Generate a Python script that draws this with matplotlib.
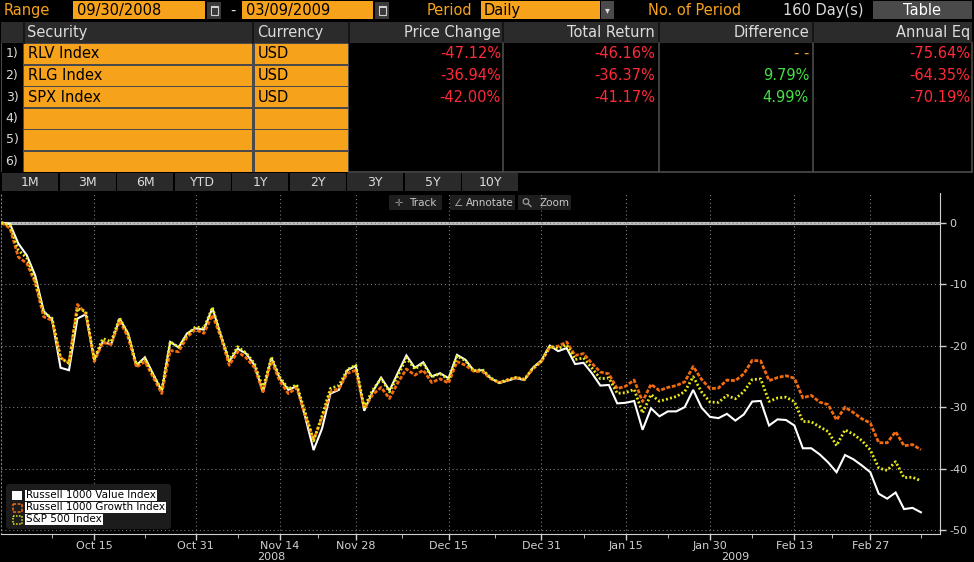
import numpy as np
import pandas as pd
import matplotlib
matplotlib.use("Agg")
import matplotlib.pyplot as plt
from matplotlib.patches import Rectangle, FancyBboxPatch, Circle

# trading days shown on the chart (NYSE holidays removed)
holidays = ["2008-11-27", "2008-12-25", "2009-01-01", "2009-01-19", "2009-02-16"]
dates = pd.bdate_range("2008-09-30", "2009-03-09")
dates = dates[~dates.isin(pd.to_datetime(holidays))]

# cumulative % change
spx = [0, -0.45, -4.47, -5.76, -9.39, -14.59, -15.55, -21.99, -22.90, -13.98,
       -14.43, -22.16, -18.86, -19.36, -15.51, -18.12, -23.11, -22.14, -24.83, -27.22,
       -19.36, -20.26, -18.20, -16.94, -17.15, -13.77, -18.31, -22.42, -20.18, -21.19,
       -22.93, -26.93, -21.87, -25.13, -27.06, -26.34, -30.85, -35.49, -31.41, -26.97,
       -26.49, -23.89, -23.16, -30.02, -27.23, -25.35, -27.53, -24.89, -22.01, -23.81,
       -22.90, -25.10, -24.57, -25.53, -21.71, -22.46, -24.10, -23.88, -25.27, -26.00,
       -25.57, -25.17, -25.46, -23.64, -22.56, -20.11, -20.48, -19.86, -22.27, -22.00,
       -23.66, -25.39, -25.26, -27.76, -27.66, -27.11, -30.96, -27.96, -29.05, -28.67,
       -28.28, -27.49, -25.06, -27.54, -29.19, -29.23, -28.11, -28.65, -27.48, -25.53,
       -25.42, -29.08, -28.52, -28.39, -29.11, -32.34, -32.40, -33.22, -33.98, -36.27,
       -33.71, -34.42, -35.45, -36.98, -39.91, -40.30, -38.88, -41.48, -41.41, -42.00]
rlv = [0, -0.2, -3.4, -5.3, -8.6, -14.4, -15.8, -23.6, -24.0, -15.6,
       -14.9, -22.3, -19.4, -19.8, -15.6, -18.0, -23.2, -21.9, -24.7, -27.4,
       -19.4, -20.3, -18.0, -17.2, -17.4, -13.9, -18.3, -22.6, -20.5, -21.3,
       -23.2, -27.6, -22.0, -25.4, -27.2, -26.6, -31.6, -37.0, -33.5, -27.8,
       -27.2, -24.0, -23.3, -30.6, -27.5, -25.2, -27.3, -24.4, -21.6, -23.6,
       -22.7, -25.0, -24.5, -25.3, -21.5, -22.3, -24.1, -24.0, -25.3, -26.1,
       -25.7, -25.3, -25.6, -23.6, -22.4, -20.0, -20.9, -20.4, -23.0, -22.8,
       -24.5, -26.5, -26.4, -29.4, -29.3, -29.0, -33.7, -30.2, -31.5, -30.7,
       -30.7, -30.0, -27.2, -30.1, -31.6, -31.8, -31.1, -32.2, -31.2, -29.1,
       -29.0, -33.0, -32.0, -32.1, -33.0, -36.7, -36.7, -37.7, -39.0, -40.6,
       -37.8, -38.5, -39.5, -40.6, -44.1, -44.9, -43.9, -46.6, -46.4, -47.12]
rlg = [0, -0.9, -5.6, -6.6, -9.8, -15.3, -15.9, -22.0, -22.8, -13.3,
       -14.8, -22.6, -19.5, -19.8, -16.0, -18.6, -23.5, -22.6, -25.2, -27.8,
       -20.8, -21.0, -18.6, -17.4, -18.0, -15.0, -18.6, -23.2, -21.0, -22.0,
       -23.6, -27.5, -22.5, -25.8, -27.8, -26.9, -31.3, -35.3, -31.8, -27.5,
       -27.0, -24.5, -24.0, -30.2, -28.0, -26.8, -28.6, -26.0, -23.8, -24.8,
       -24.0, -26.0, -25.4, -26.1, -22.6, -23.2, -24.2, -24.2, -25.4, -26.0,
       -25.6, -25.2, -25.5, -23.8, -22.6, -20.3, -20.1, -19.4, -21.6, -21.3,
       -22.9, -24.3, -24.6, -27.0, -26.6, -25.6, -29.1, -26.3, -27.3, -26.8,
       -26.5, -25.9, -23.4, -25.5, -27.0, -26.9, -25.6, -25.7, -24.6, -22.4,
       -22.5, -25.7, -25.2, -24.9, -25.3, -28.5, -28.1, -29.2, -29.6, -32.1,
       -30.0, -30.9, -31.9, -32.6, -35.8, -35.8, -34.0, -36.3, -36.1, -36.94]

series_names = ["Russell 1000 Value Index", "Russell 1000 Growth Index", "S&P 500 Index"]
tick_dates = ["2008-10-15", "2008-10-31", "2008-11-14", "2008-11-28", "2008-12-15",
              "2008-12-31", "2009-01-15", "2009-01-30", "2009-02-13", "2009-02-27"]
tick_labels = ["Oct 15", "Oct 31", "Nov 14", "Nov 28", "Dec 15",
               "Dec 31", "Jan 15", "Jan 30", "Feb 13", "Feb 27"]
y_ticks = [0, -10, -20, -30, -40, -50]

securities = ["RLV Index", "RLG Index", "SPX Index"]
currency = ["USD", "USD", "USD"]
price_change = ["-47.12%", "-36.94%", "-42.00%"]
total_return = ["-46.16%", "-36.37%", "-41.17%"]
difference = ["- -", "9.79%", "4.99%"]
annual_eq = ["-75.64%", "-64.35%", "-70.19%"]
periods = ["1M", "3M", "6M", "YTD", "1Y", "2Y", "3Y", "5Y", "10Y"]

ORANGE = "#f7a21b"
RED = "#ff2a3a"
GREEN = "#45e045"
LIGHT = "#dcdcdc"
W, H = 974, 562

fig = plt.figure(figsize=(W / 100, H / 100), dpi=100, facecolor="black")

# full-figure pixel canvas for the terminal widgets
bg = fig.add_axes([0, 0, 1, 1], zorder=0)
bg.set_xlim(0, W)
bg.set_ylim(H, 0)
bg.axis("off")
bg.set_facecolor("black")


def box(x0, y0, x1, y1, fc, ec="none", lw=0, ax=bg, z=1, **kw):
    ax.add_patch(Rectangle((x0, y0), x1 - x0, y1 - y0, fc=fc, ec=ec, lw=lw, zorder=z, **kw))


def txt(x, y, s, color=LIGHT, size=10.5, ha="left", ax=bg, **kw):
    ax.text(x, y, s, color=color, fontsize=size, ha=ha, va="center", zorder=5, **kw)


def calendar(x0):
    box(x0, 2, x0 + 14, 19, "#3a3a3a")
    box(x0 + 3.5, 6, x0 + 10.5, 15, "none", ec="#cfcfcf", lw=0.8, z=2)
    box(x0 + 3.5, 6, x0 + 10.5, 8, "#cfcfcf", z=2)


# top line
txt(4, 10.5, "Range", ORANGE)
box(73, 1, 205, 19, ORANGE)
txt(77, 10.5, "09/30/2008", "black")
calendar(207)
txt(230, 10, "-", LIGHT)
box(242, 1, 373, 19, ORANGE)
txt(246, 10.5, "03/09/2009", "black")
calendar(375)
txt(427, 10.5, "Period", ORANGE)
box(481, 1, 600, 19, ORANGE)
txt(484, 10.5, "Daily", "black")
box(601, 1, 614, 19, "#4a4a4a")
txt(607.5, 10.5, "▾", LIGHT, size=7, ha="center")
txt(648, 10.5, "No. of Period", ORANGE)
txt(783, 10.5, "160 Day(s)", LIGHT)
box(873, 1, 972, 19, "#4a4a4a")
txt(922, 10.5, "Table", "white", ha="center")

# table header
box(1, 22, 972, 43, "#2b2b2b")
for sx in [24, 253, 349, 503, 659, 813]:
    bg.plot([sx, sx], [22, 43], color="#111111", lw=1.2, zorder=2)
txt(27, 32.5, "Security")
txt(257, 32.5, "Currency")
txt(501, 32.5, "Price Change", ha="right")
txt(655, 32.5, "Total Return", ha="right")
txt(809, 32.5, "Difference", ha="right")
txt(970, 32.5, "Annual Eq", ha="right")

# table body
row_top = [44, 65.5, 87, 108.5, 130, 151.5]
box(1, 43, 349, 172, "#4a4a4a")
box(2, 43, 23, 172, "black")
for i, yt in enumerate(row_top):
    box(24, yt, 252, yt + 20, ORANGE)
    box(255, yt, 348, yt + 20, ORANGE)
    txt(12, yt + 10, f"{i + 1})", LIGHT, size=9, ha="center")
for i in range(len(securities)):
    yc = row_top[i] + 10
    txt(28, yc, securities[i], "black")
    txt(258, yc, currency[i], "black")
    txt(501, yc, price_change[i], RED, ha="right")
    txt(655, yc, total_return[i], RED, ha="right")
    dcol = ORANGE if difference[i].startswith("-") else GREEN
    txt(809, yc, difference[i], dcol, ha="right")
    txt(970, yc, annual_eq[i], RED, ha="right")
for sx in [503, 659, 813, 972]:
    bg.plot([sx, sx], [43, 172], color="#4a4a4a", lw=1.2, zorder=2)
bg.plot([349, 972], [171.5, 171.5], color="#4a4a4a", lw=1.2, zorder=2)

# period buttons
for i, p in enumerate(periods):
    x0 = 2 + i * 57.5
    box(x0, 173, x0 + 56, 191, "#2a2a2a")
    txt(x0 + 28, 182, p, LIGHT, size=9, ha="center")

# chart toolbar
box(389, 195, 442, 210, "#1e1e1e")
txt(399, 202.5, "✛", "#9a9a9a", size=7, ha="center")
txt(409, 202.5, "Track", "#c8c8c8", size=7.5)
box(450, 195, 515, 210, "#1e1e1e")
txt(458, 202.5, "∠", "#9a9a9a", size=7.5, ha="center")
txt(466, 202.5, "Annotate", "#c8c8c8", size=7.5)
box(518, 195, 571, 210, "#1e1e1e")
bg.add_patch(Circle((526, 201.5), 2.8, fc="none", ec="#9a9a9a", lw=0.9, zorder=3))
bg.plot([528, 531], [203.5, 206.5], color="#9a9a9a", lw=1, zorder=3)
txt(539, 202.5, "Zoom", "#c8c8c8", size=7.5)

# chart
L, R, T, B = 1, 940, 193, 534
ax = fig.add_axes([L / W, (H - B) / H, (R - L) / W, (B - T) / H], zorder=2)
ax.set_facecolor("none")
x = np.arange(len(dates))
px_day = 8.435
x0 = -0.06
ax.set_xlim(x0, x0 + (R - L) / px_day)
px_unit = 6.146
y_zero_px = 222.7
ax.set_ylim(-(B - y_zero_px) / px_unit, (y_zero_px - T) / px_unit)

ax.axhline(0, color="#bdbdbd", lw=2.3, zorder=1.5)
ax.plot(x, rlv, color="white", lw=1.5, zorder=3, solid_joinstyle="miter")
ax.plot(x, rlg, color="#f26b0f", lw=2.0, zorder=4, linestyle=(0, (1.4, 0.6)),
        dash_capstyle="butt")
ax.plot(x, spx, color="#e8e81a", lw=2.0, zorder=5, linestyle=(0, (0.7, 0.8)),
        dash_capstyle="butt")

date_idx = {d.strftime("%Y-%m-%d"): i for i, d in enumerate(dates)}
major = [date_idx[d] for d in tick_dates]
minor = [major[0] - 5] + list((np.array(major[:-1]) + np.array(major[1:])) / 2) + [len(dates) - 1]
ax.set_xticks(major)
ax.set_xticklabels(tick_labels)
ax.set_xticks(minor, minor=True)
ax.yaxis.tick_right()
ax.set_yticks(y_ticks)
ax.set_yticklabels([str(v) for v in y_ticks])
ax.tick_params(axis="both", colors="#d0d0d0", labelsize=8, length=4, width=1, direction="out")
ax.tick_params(axis="x", which="minor", colors="#d0d0d0", length=3)
ax.tick_params(axis="x", pad=1)
ax.tick_params(axis="y", pad=3)
ax.grid(True, which="major", color="#7a7a7a", linestyle=(0, (1, 2.5)), lw=0.8)
ax.spines["top"].set_visible(False)
ax.spines["left"].set_color("#7a7a7a")
ax.spines["left"].set_linestyle((0, (1, 2.5)))
ax.spines["left"].set_linewidth(0.8)
ax.spines["bottom"].set_color("#d0d0d0")
ax.spines["right"].set_color("#d0d0d0")

years = np.array([d.year for d in dates])
for yr in [2008, 2009]:
    mid = x[years == yr].mean()
    ax.text(mid, -0.068, str(yr), transform=ax.get_xaxis_transform(), color="#d0d0d0",
            fontsize=8, ha="center", va="center")

# legend overlay
top = fig.add_axes([0, 0, 1, 1], zorder=10)
top.set_xlim(0, W)
top.set_ylim(H, 0)
top.axis("off")
top.patch.set_alpha(0)
top.add_patch(FancyBboxPatch((6, 484), 165, 45, boxstyle="round,pad=0,rounding_size=3",
                             fc="#1c1c1c", ec="none", zorder=1))
leg_y = [495.5, 507.5, 519.5]
box(12, leg_y[0] - 4.5, 22, leg_y[0] + 4.5, "white", ax=top, z=2)
box(12.5, leg_y[1] - 4, 21.5, leg_y[1] + 4, "none", ec="#f26b0f", lw=1.1, ax=top, z=2,
    linestyle=(0, (2, 1)))
box(12.5, leg_y[2] - 4, 21.5, leg_y[2] + 4, "none", ec="#e8e81a", lw=1.1, ax=top, z=2,
    linestyle=(0, (1, 1)))
for yl, name in zip(leg_y, series_names):
    top.text(26, yl, name, color="black", fontsize=7.5, ha="left", va="center", zorder=3,
             bbox=dict(fc="white", ec="none", pad=0.6))

fig.savefig("out.png", dpi=100, facecolor="black")
